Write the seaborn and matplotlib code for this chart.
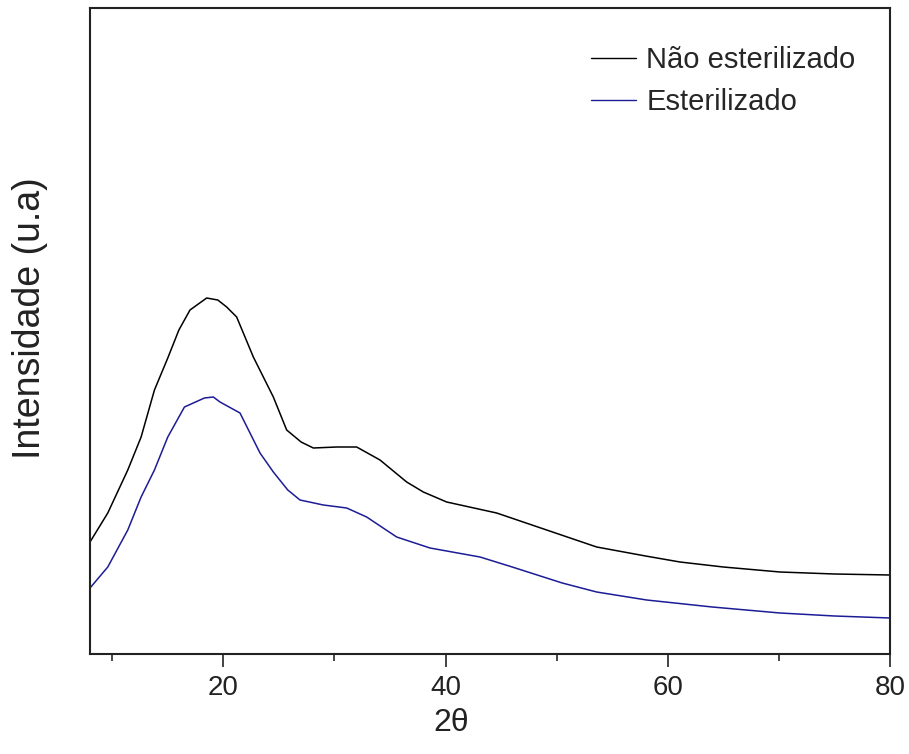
import matplotlib
matplotlib.use("Agg")
import matplotlib.pyplot as plt
import seaborn as sns
import pandas as pd
from matplotlib.ticker import MultipleLocator

# 2-theta positions and intensities (arbitrary units)
theta_nao = [8.0, 9.6, 11.4, 12.6, 13.8, 15.0, 16.0, 17.0, 18.5, 19.5, 20.3, 21.2, 22.7,
             24.5, 25.7, 27.0, 28.1, 30.2, 32.0, 34.1, 36.5, 38.0, 40.1, 44.6, 49.1,
             53.6, 58.0, 61.1, 65.0, 70.1, 75.0, 80.0]
int_nao = [112, 141, 184, 217, 264, 296, 324, 344, 356, 354, 347, 337, 297,
           257, 224, 212, 206, 207, 207, 194, 172, 162, 152, 141, 124,
           107, 98, 92, 87, 82, 80, 79]

theta_est = [8.0, 9.6, 11.4, 12.6, 13.8, 15.0, 16.5, 18.3, 19.1, 19.7, 21.5, 23.3,
             24.5, 25.8, 26.9, 29.0, 31.1, 32.9, 35.6, 38.6, 43.1, 46.0, 50.5,
             53.6, 58.1, 64.0, 70.1, 75.0, 80.0]
int_est = [66, 87, 124, 157, 184, 217, 247, 256, 257, 252, 241, 201,
           182, 164, 154, 149, 146, 137, 117, 106, 97, 87, 71,
           62, 54, 47, 41, 38, 36]

labels = ["Não esterilizado", "Esterilizado"]

df = pd.concat([
    pd.DataFrame({"theta": theta_nao, "intensity": int_nao, "amostra": labels[0]}),
    pd.DataFrame({"theta": theta_est, "intensity": int_est, "amostra": labels[1]}),
])

sns.set_style("white")
plt.rcParams['font.family'] = ['Liberation Sans', 'DejaVu Sans']

fig = plt.figure(figsize=(9.09, 7.54), dpi=100)
ax = fig.add_axes([90 / 909, 1 - 654 / 754, 800 / 909, 646 / 754])

sns.lineplot(data=df, x="theta", y="intensity", hue="amostra",
             palette={labels[0]: "#000000", labels[1]: "#1c1c96"},
             linewidth=1.1, ax=ax, sort=False, estimator=None)

ax.set_xlim(8, 80)
ax.set_ylim(0, 646)
ax.set_yticks([])
ax.xaxis.set_major_locator(MultipleLocator(20))
ax.xaxis.set_minor_locator(MultipleLocator(10))
ax.tick_params(axis="x", which="major", direction="out", length=9, width=1.2,
               labelsize=20, colors="#222222", bottom=True, pad=6)
ax.tick_params(axis="x", which="minor", direction="out", length=5, width=1.2, bottom=True)
for s in ax.spines.values():
    s.set_color("#222222")
    s.set_linewidth(1.5)

ax.set_xlabel("2θ", fontsize=23, color="#222222")
ax.xaxis.set_label_coords(0.451, -0.083)
ax.set_ylabel("Intensidade (u.a)", fontsize=27, color="#222222")
ax.yaxis.set_label_coords(-0.053, 0.52)

leg = ax.legend(loc="upper right", frameon=False, fontsize=21, handlelength=1.55,
                handletextpad=0.35, labelspacing=0.47,
                bbox_to_anchor=(0.979, 0.968), borderaxespad=0.2)
for line in leg.get_lines():
    line.set_linewidth(1.0)

fig.savefig("out.png", dpi=100)
